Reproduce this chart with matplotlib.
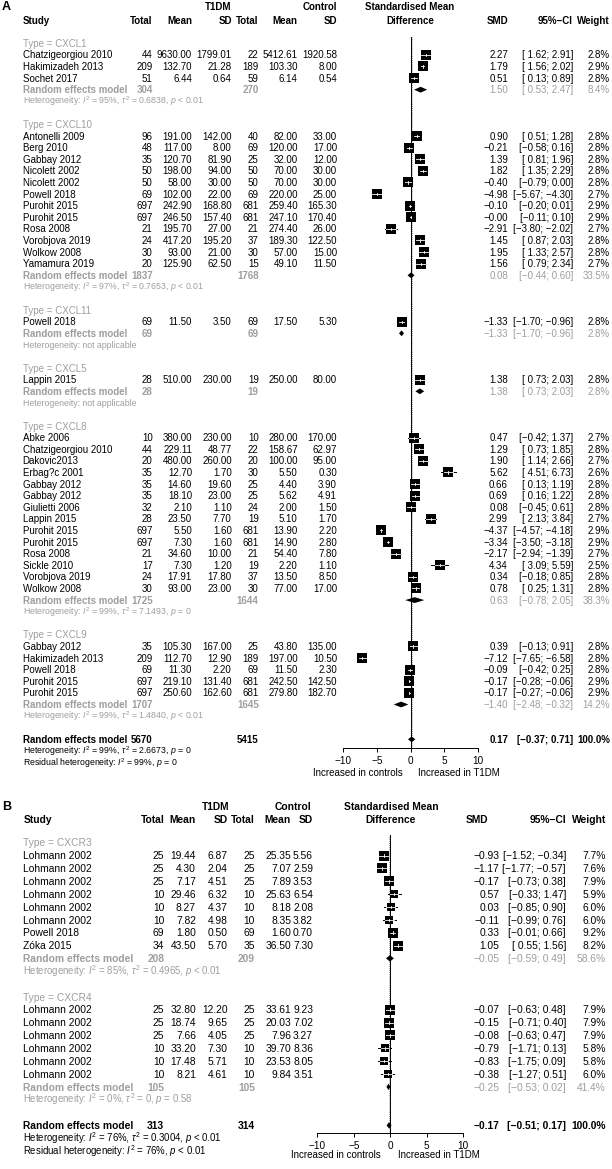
import numpy as np
import matplotlib.pyplot as plt

plt.rcParams['font.family'] = ['Liberation Sans', 'DejaVu Sans']
plt.rcParams['mathtext.fontset'] = 'custom'
plt.rcParams['mathtext.rm'] = 'Liberation Sans'
plt.rcParams['mathtext.it'] = 'Liberation Sans:italic'
plt.rcParams['mathtext.bf'] = 'Liberation Sans:bold'

#####################################################################
# Panel A data (CXCL chemokines)
#####################################################################
a_study = ['Chatzigeorgiou 2010', 'Hakimizadeh 2013', 'Sochet 2017',
           'Antonelli 2009', 'Berg 2010', 'Gabbay 2012', 'Nicolett 2002', 'Nicolett 2002',
           'Powell 2018', 'Purohit 2015', 'Purohit 2015', 'Rosa 2008', 'Vorobjova 2019',
           'Wolkow 2008', 'Yamamura 2019',
           'Powell 2018',
           'Lappin 2015',
           'Abke 2006', 'Chatzigeorgiou 2010', 'Dakovic2013', 'Erbag?c 2001', 'Gabbay 2012',
           'Gabbay 2012', 'Giulietti 2006', 'Lappin 2015', 'Purohit 2015', 'Purohit 2015',
           'Rosa 2008', 'Sickle 2010', 'Vorobjova 2019', 'Wolkow 2008',
           'Gabbay 2012', 'Hakimizadeh 2013', 'Powell 2018', 'Purohit 2015', 'Purohit 2015']
a_group = ['CXCL1'] * 3 + ['CXCL10'] * 12 + ['CXCL11'] + ['CXCL5'] + ['CXCL8'] * 14 + ['CXCL9'] * 5
a_n1 = [44, 209, 51,
        96, 48, 35, 50, 50, 69, 697, 697, 21, 24, 30, 20,
        69,
        28,
        10, 44, 20, 35, 35, 35, 32, 28, 697, 697, 21, 17, 24, 30,
        35, 209, 69, 697, 697]
a_m1 = [9630.00, 132.70, 6.44,
        191.00, 117.00, 120.70, 198.00, 58.00, 102.00, 242.90, 246.50, 195.70, 417.20, 93.00, 125.90,
        11.50,
        510.00,
        380.00, 229.11, 480.00, 12.70, 14.60, 18.10, 2.10, 23.50, 5.50, 7.30, 34.60, 7.30, 17.91, 93.00,
        105.30, 112.70, 11.30, 219.10, 250.60]
a_s1 = [1799.01, 21.28, 0.64,
        142.00, 8.00, 81.90, 94.00, 30.00, 22.00, 168.80, 157.40, 27.00, 195.20, 21.00, 62.50,
        3.50,
        230.00,
        230.00, 48.77, 260.00, 1.70, 19.60, 23.00, 1.10, 7.70, 1.60, 1.60, 10.00, 1.20, 17.80, 23.00,
        167.00, 12.90, 2.20, 131.40, 162.60]
a_n2 = [22, 189, 59,
        40, 69, 25, 50, 50, 69, 681, 681, 21, 37, 30, 15,
        69,
        19,
        10, 22, 20, 30, 25, 25, 24, 19, 681, 681, 21, 19, 37, 30,
        25, 189, 69, 681, 681]
a_m2 = [5412.61, 103.30, 6.14,
        82.00, 120.00, 32.00, 70.00, 70.00, 220.00, 259.40, 247.10, 274.40, 189.30, 57.00, 49.10,
        17.50,
        250.00,
        280.00, 158.67, 100.00, 5.50, 4.40, 5.62, 2.00, 5.10, 13.90, 14.90, 54.40, 2.20, 13.50, 77.00,
        43.80, 197.00, 11.50, 242.50, 279.80]
a_s2 = [1920.58, 8.00, 0.54,
        33.00, 17.00, 12.00, 30.00, 30.00, 25.00, 165.30, 170.40, 26.00, 122.50, 15.00, 11.50,
        5.30,
        80.00,
        170.00, 62.97, 95.00, 0.30, 3.90, 4.91, 1.50, 1.70, 2.20, 2.80, 7.80, 1.10, 8.50, 17.00,
        135.00, 10.50, 2.30, 142.50, 182.70]
a_smd = [2.27, 1.79, 0.51,
         0.90, -0.21, 1.39, 1.82, -0.40, -4.98, -0.10, -0.0, -2.91, 1.45, 1.95, 1.56,
         -1.33,
         1.38,
         0.47, 1.29, 1.90, 5.62, 0.66, 0.69, 0.08, 2.99, -4.37, -3.34, -2.17, 4.34, 0.34, 0.78,
         0.39, -7.12, -0.09, -0.17, -0.17]
a_lo = [1.62, 1.56, 0.13,
        0.51, -0.58, 0.81, 1.35, -0.79, -5.67, -0.20, -0.11, -3.80, 0.87, 1.33, 0.79,
        -1.70,
        0.73,
        -0.42, 0.73, 1.14, 4.51, 0.13, 0.16, -0.45, 2.13, -4.57, -3.50, -2.94, 3.09, -0.18, 0.25,
        -0.13, -7.65, -0.42, -0.28, -0.27]
a_hi = [2.91, 2.02, 0.89,
        1.28, 0.16, 1.96, 2.29, 0.00, -4.30, 0.01, 0.10, -2.02, 2.03, 2.57, 2.34,
        -0.96,
        2.03,
        1.37, 1.85, 2.66, 6.73, 1.19, 1.22, 0.61, 3.84, -4.18, -3.18, -1.39, 5.59, 0.85, 1.31,
        0.91, -6.58, 0.25, -0.06, -0.06]
a_w = [2.8, 2.9, 2.8,
       2.8, 2.8, 2.8, 2.8, 2.8, 2.7, 2.9, 2.9, 2.7, 2.8, 2.8, 2.7,
       2.8,
       2.8,
       2.7, 2.8, 2.7, 2.6, 2.8, 2.8, 2.8, 2.7, 2.9, 2.9, 2.7, 2.5, 2.8, 2.8,
       2.8, 2.8, 2.8, 2.9, 2.9]

# subgroup summaries A
a_types = ['CXCL1', 'CXCL10', 'CXCL11', 'CXCL5', 'CXCL8', 'CXCL9']
a_t_n1 = [304, 1837, 69, 28, 1725, 1707]
a_t_n2 = [270, 1768, 69, 19, 1644, 1645]
a_t_smd = [1.50, 0.08, -1.33, 1.38, 0.63, -1.40]
a_t_lo = [0.53, -0.44, -1.70, 0.73, -0.78, -2.48]
a_t_hi = [2.47, 0.60, -0.96, 2.03, 2.05, -0.32]
a_t_w = [8.4, 33.5, 2.8, 2.8, 38.3, 14.2]
a_t_i2 = [95, 97, None, None, 99, 99]
a_t_tau2 = ['0.6838', '0.7653', None, None, '7.1493', '1.4840']
a_t_p = ['< 0.01', '< 0.01', None, None, '= 0', '< 0.01']

# overall A
a_all = [5670, 5415, 0.17, -0.37, 0.71]
a_all_het = [99, '2.6673', '= 0']
a_all_res = [99, '= 0']

#####################################################################
# Panel B data (CXCR receptors)
#####################################################################
b_study = ['Lohmann 2002'] * 6 + ['Powell 2018', 'Zóka 2015'] + ['Lohmann 2002'] * 6
b_group = ['CXCR3'] * 8 + ['CXCR4'] * 6
b_n1 = [25, 25, 25, 10, 10, 10, 69, 34, 25, 25, 25, 10, 10, 10]
b_m1 = [19.44, 4.30, 7.17, 29.46, 8.27, 7.82, 1.80, 43.50, 32.80, 18.74, 7.66, 33.20, 17.48, 8.21]
b_s1 = [6.87, 2.04, 4.51, 6.32, 4.37, 4.98, 0.50, 5.70, 12.20, 9.65, 4.05, 7.30, 5.71, 4.61]
b_n2 = [25, 25, 25, 10, 10, 10, 69, 35, 25, 25, 25, 10, 10, 10]
b_m2 = [25.35, 7.07, 7.89, 25.63, 8.18, 8.35, 1.60, 36.50, 33.61, 20.03, 7.96, 39.70, 23.53, 9.84]
b_s2 = [5.56, 2.59, 3.53, 6.54, 2.08, 3.82, 0.70, 7.30, 9.23, 7.02, 3.27, 8.36, 8.05, 3.51]
b_smd = [-0.93, -1.17, -0.17, 0.57, 0.03, -0.11, 0.33, 1.05, -0.07, -0.15, -0.08, -0.79, -0.83, -0.38]
b_lo = [-1.52, -1.77, -0.73, -0.33, -0.85, -0.99, -0.01, 0.55, -0.63, -0.71, -0.63, -1.71, -1.75, -1.27]
b_hi = [-0.34, -0.57, 0.38, 1.47, 0.90, 0.76, 0.66, 1.56, 0.48, 0.40, 0.47, 0.13, 0.09, 0.51]
b_w = [7.7, 7.6, 7.9, 5.9, 6.0, 6.0, 9.2, 8.2, 7.9, 7.9, 7.9, 5.8, 5.8, 6.0]

b_types = ['CXCR3', 'CXCR4']
b_t_n1 = [208, 105]
b_t_n2 = [209, 105]
b_t_smd = [-0.05, -0.25]
b_t_lo = [-0.59, -0.53]
b_t_hi = [0.49, 0.02]
b_t_w = [58.6, 41.4]
b_t_i2 = [85, 0]
b_t_tau2 = ['0.4965', '0']
b_t_p = ['< 0.01', '= 0.58']

b_all = [313, 314, -0.17, -0.51, 0.17]
b_all_het = [76, '0.3004', '< 0.01']
b_all_res = [76, '< 0.01']

#####################################################################
W, H = 612, 1169
GREY = '#9e9e9e'
fig = plt.figure(figsize=(W / 100, H / 100), dpi=100)


def txt(x, y, s, ha='left', fs=7, bold=False, color='black'):
    off = fs / 72 * 100 * 0.36
    fig.text(x / W, 1 - (y + off) / H, s, ha=ha, va='baseline', fontsize=fs,
             fontweight='bold' if bold else 'normal', color=color)


def num(v):
    return ('%.2f' % v).replace('-', '\u2212')


def ci(lo, hi):
    l = num(lo) if lo < 0 else ' ' + num(lo)
    return '[%s; %s]' % (l, num(hi))


def het(i2, tau2, p):
    if i2 is None:
        return 'Heterogeneity: not applicable'
    return r'Heterogeneity: $I^2$ = %d%%, $\tau^2$ = %s, $p$ %s' % (i2, tau2, p)


def draw_panel(lay, study, group, n1, m1, s1, n2, m2, s2, smd, lo, hi, w,
               types, tn1, tn2, tsmd, tlo, thi, tw, ti2, ttau2, tp, allv, allhet, allres):
    y0, dy, fs, hfs = lay['y0'], lay['dy'], lay['fs'], lay['hfs']
    c = lay['cols']
    hc = lay['hcols']

    # headers
    txt(2, lay['hy1'] - 1, lay['letter'], fs=9, bold=True)
    txt(hc['t1'], lay['hy1'], 'T1DM', 'right', fs, True)
    txt(hc['t2'], lay['hy1'], 'Control', 'right', fs, True)
    txt(lay['hdx'], lay['hy1'], 'Standardised Mean', 'center', fs, True)
    txt(c['study'], lay['hy2'], 'Study', 'left', fs, True)
    for key, lab in [('n1', 'Total'), ('m1', 'Mean'), ('s1', 'SD'),
                     ('n2', 'Total'), ('m2', 'Mean'), ('s2', 'SD'),
                     ('smd', 'SMD'), ('ci', '95%\u2212CI'), ('w', 'Weight')]:
        txt(hc[key], lay['hy2'], lab, 'right', fs, True)
    txt(lay['hdx'], lay['hy2'], 'Difference', 'center', fs, True)

    # forest axes
    x_lo, x_hi, top_y, axis_y = lay['x_lo'], lay['x_hi'], lay['top_y'], lay['axis_y']
    fax = fig.add_axes([x_lo / W, 1 - axis_y / H, (x_hi - x_lo) / W, (axis_y - top_y) / H])
    fax.set_xlim(-10, 10)
    fax.set_ylim((axis_y - y0) / dy, (top_y - y0) / dy)
    fax.patch.set_alpha(0)
    for sp in ['left', 'right', 'top']:
        fax.spines[sp].set_visible(False)
    fax.spines['bottom'].set_linewidth(0.7)
    fax.set_yticks([])
    fax.set_xticks([-10, -5, 0, 5, 10])
    fax.tick_params(axis='x', length=3, width=0.7, labelsize=7.2, pad=2.5)
    fax.axvline(0, color='black', lw=0.7, zorder=1)
    fax.axvline(allv[2], color='#808080', lw=0.6, ls=(0, (1, 1.5)), zorder=1)
    pxu = (x_hi - x_lo) / 20.0

    def diamond(k, e, l, h):
        fax.fill([l, e, h, e], [k, k - 0.25, k, k + 0.25], color='black', lw=0, zorder=3)

    k = 0
    for g, tname in enumerate(types):
        txt(c['study'], y0 + dy * k, 'Type = ' + tname, fs=fs, color=GREY)
        k += 1
        for i in range(len(study)):
            if group[i] != tname:
                continue
            y = y0 + dy * k
            txt(c['study'], y, study[i], fs=fs)
            txt(c['n1'], y, str(n1[i]), 'right', fs)
            txt(c['m1'], y, '%.2f' % m1[i], 'right', fs)
            txt(c['s1'], y, '%.2f' % s1[i], 'right', fs)
            txt(c['n2'], y, str(n2[i]), 'right', fs)
            txt(c['m2'], y, '%.2f' % m2[i], 'right', fs)
            txt(c['s2'], y, '%.2f' % s2[i], 'right', fs)
            txt(c['smd'], y, num(smd[i]), 'right', fs)
            txt(c['ci'], y, ci(lo[i], hi[i]), 'right', fs)
            txt(c['w'], y, '%.1f%%' % w[i], 'right', fs)
            # study marker
            side = lay['sq'] * np.sqrt(w[i])
            fax.plot([lo[i], hi[i]], [k, k], color='black', lw=0.7, zorder=2)
            fax.plot(smd[i], k, marker='s', ms=side * 0.72, color='black', mew=0, zorder=3)
            half = side / 2 / pxu
            a, b = max(lo[i], smd[i] - half), min(hi[i], smd[i] + half)
            fax.plot([a, b], [k, k], color='white', lw=0.6, zorder=4)
            fax.plot([smd[i], smd[i]], [k - 0.1, k + 0.1], color='white', lw=0.6, zorder=4)
            k += 1
        y = y0 + dy * k
        txt(c['study'], y, 'Random effects model', fs=fs, bold=True, color=GREY)
        txt(c['n1'], y, str(tn1[g]), 'right', fs, True, GREY)
        txt(c['n2'], y, str(tn2[g]), 'right', fs, True, GREY)
        txt(c['smd'], y, num(tsmd[g]), 'right', fs, color=GREY)
        txt(c['ci'], y, ci(tlo[g], thi[g]), 'right', fs, color=GREY)
        txt(c['w'], y, '%.1f%%' % tw[g], 'right', fs, color=GREY)
        diamond(k, tsmd[g], tlo[g], thi[g])
        k += 1
        txt(c['study'], y0 + dy * k, het(ti2[g], ttau2[g], tp[g]), fs=hfs, color=GREY)
        k += 2

    y = y0 + dy * k
    txt(c['study'], y, 'Random effects model', fs=fs, bold=True)
    txt(c['n1'], y, str(allv[0]), 'right', fs, True)
    txt(c['n2'], y, str(allv[1]), 'right', fs, True)
    txt(c['smd'], y, num(allv[2]), 'right', fs, True)
    txt(c['ci'], y, ci(allv[3], allv[4]), 'right', fs, True)
    txt(c['w'], y, '100.0%', 'right', fs, True)
    diamond(k, allv[2], allv[3], allv[4])
    txt(c['study'], y0 + dy * (k + 1), het(*allhet), fs=hfs)
    txt(c['study'], y0 + dy * (k + 2),
        r'Residual heterogeneity: $I^2$ = %d%%, $p$ %s' % (allres[0], allres[1]), fs=hfs)

    # axis labels
    txt(lay['lab_l'], lay['lab_y'], 'Increased in controls', 'right', 7)
    txt(lay['lab_r'], lay['lab_y'], 'Increased in T1DM', 'left', 7)


cols_a = dict(study=22.7, n1=152.7, m1=192, s1=231.7, n2=258.7, m2=297.7, s2=337,
              smd=508, ci=573, w=610)
hcols_a = dict(cols_a, t1=231, t2=337)
lay_a = dict(letter='A', y0=43.3, dy=11.6, fs=7, hfs=6.3, cols=cols_a, hcols=hcols_a,
             hy1=7, hy2=20, hdx=410, x_lo=343, x_hi=478, top_y=37, axis_y=748,
             sq=5.7, lab_l=403, lab_r=418, lab_y=773)
draw_panel(lay_a, a_study, a_group, a_n1, a_m1, a_s1, a_n2, a_m2, a_s2, a_smd, a_lo, a_hi, a_w,
           a_types, a_t_n1, a_t_n2, a_t_smd, a_t_lo, a_t_hi, a_t_w, a_t_i2, a_t_tau2, a_t_p,
           a_all, a_all_het, a_all_res)

cols_b = dict(study=23.3, n1=164.3, m1=196, s1=227.7, n2=255, m2=291, s2=313,
              smd=499.3, ci=566, w=606)
hcols_b = dict(cols_b, smd=488, t1=229, t2=311)
lay_b = dict(letter='B', y0=842.7, dy=12.85, fs=7.4, hfs=6.9, cols=cols_b, hcols=hcols_b,
             hy1=806, hy2=819, hdx=391, x_lo=317.3, x_hi=463.3, top_y=835, axis_y=1133,
             sq=3.3, lab_l=381, lab_r=398, lab_y=1155)
draw_panel(lay_b, b_study, b_group, b_n1, b_m1, b_s1, b_n2, b_m2, b_s2, b_smd, b_lo, b_hi, b_w,
           b_types, b_t_n1, b_t_n2, b_t_smd, b_t_lo, b_t_hi, b_t_w, b_t_i2, b_t_tau2, b_t_p,
           b_all, b_all_het, b_all_res)

fig.savefig('out.png', dpi=100)
